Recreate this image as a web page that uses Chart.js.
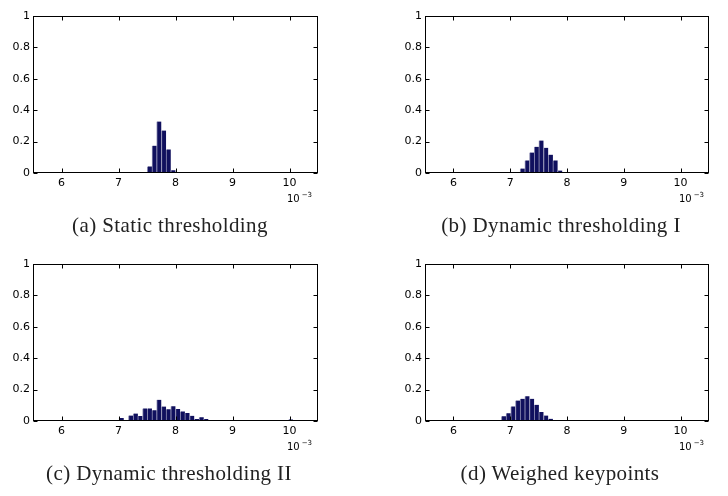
<!DOCTYPE html>
<html>
<head>
<meta charset="utf-8">
<script src="https://cdn.jsdelivr.net/npm/chart.js@4.4.1/dist/chart.umd.min.js"></script>
<style>
  html, body { margin:0; padding:0; background:#fff; }
  body { width:728px; height:496px; position:relative; overflow:hidden; }
  .panel { position:absolute; width:364px; height:248px; }
  .panel canvas { position:absolute; left:0; top:0; }
  .cap { position:absolute; font-family:"Liberation Serif","Times New Roman",serif; font-size:21px; line-height:21px; letter-spacing:0.4px; color:#222; white-space:nowrap; transform:translateX(-50%); }
  .exp { position:absolute; font-family:"DejaVu Sans",sans-serif; font-size:10px; line-height:10px; color:#000; white-space:nowrap; }
  .exp sup { font-size:7px; position:relative; top:-1px; margin-left:2px; }
</style>
</head>
<body>
<div class="panel" style="left:0;top:0"><canvas id="ca" width="364" height="248"></canvas></div>
<div class="panel" style="left:364px;top:0"><canvas id="cb" width="364" height="248"></canvas></div>
<div class="panel" style="left:0;top:248px"><canvas id="cc" width="364" height="248"></canvas></div>
<div class="panel" style="left:364px;top:248px"><canvas id="cd" width="364" height="248"></canvas></div>

<div class="cap" style="left:170px;top:215px">(a) Static thresholding</div>
<div class="cap" style="left:561px;top:215px">(b) Dynamic thresholding I</div>
<div class="cap" style="left:169px;top:463px">(c) Dynamic thresholding II</div>
<div class="cap" style="left:560px;top:463px">(d) Weighed keypoints</div>

<div class="exp" style="left:287px;top:191px">10<sup>−3</sup></div>
<div class="exp" style="left:679px;top:191px">10<sup>−3</sup></div>
<div class="exp" style="left:287px;top:439px">10<sup>−3</sup></div>
<div class="exp" style="left:679px;top:439px">10<sup>−3</sup></div>

<script>
// Histogram bin centres (units of 10^-3)
const binCenters = [
  6.721, 6.804, 6.886, 6.969, 7.051, 7.134, 7.216, 7.299, 7.381, 7.464,
  7.546, 7.629, 7.711, 7.794, 7.876, 7.959, 8.041, 8.124, 8.206, 8.289,
  8.371, 8.454, 8.536, 8.619, 8.701, 8.784, 8.866, 8.949, 9.031, 9.114,
  9.196, 9.279, 9.361, 9.444, 9.526, 9.609, 9.691, 9.774, 9.856, 9.939,
  10.021
];

// (a) Static thresholding
const valuesStatic = [
  0, 0, 0, 0, 0, 0, 0, 0, 0, 0.003,
  0.042, 0.174, 0.328, 0.27, 0.15, 0.017, 0.007, 0.003, 0, 0.006,
  0, 0, 0, 0, 0, 0, 0, 0, 0, 0,
  0, 0, 0, 0, 0.003, 0, 0, 0, 0, 0,
  0
];
// (b) Dynamic thresholding I
const valuesDynamicI = [
  0, 0, 0, 0, 0, 0.005, 0.028, 0.08, 0.13, 0.167,
  0.207, 0.161, 0.117, 0.08, 0.016, 0.007, 0.003, 0.002, 0.002, 0.001,
  0, 0, 0, 0, 0, 0, 0, 0, 0, 0,
  0, 0, 0, 0, 0, 0, 0, 0, 0, 0.006,
  0
];
// (c) Dynamic thresholding II
const valuesDynamicII = [
  0, 0, 0, 0.007, 0.019, 0.002, 0.035, 0.048, 0.032, 0.08,
  0.08, 0.068, 0.135, 0.092, 0.075, 0.094, 0.076, 0.061, 0.051, 0.033,
  0.012, 0.024, 0.013, 0.003, 0, 0, 0, 0, 0, 0,
  0, 0, 0, 0, 0, 0, 0, 0, 0, 0,
  0.01
];
// (d) Weighed keypoints
const valuesWeighed = [
  0.002, 0.006, 0.03, 0.05, 0.093, 0.13, 0.142, 0.158, 0.142, 0.103,
  0.057, 0.035, 0.014, 0.006, 0.003, 0, 0, 0, 0, 0,
  0, 0, 0, 0.002, 0, 0, 0, 0, 0, 0,
  0, 0, 0, 0, 0, 0, 0, 0, 0, 0,
  0
];

const xTicks = [6, 7, 8, 9, 10];
const yTicks = [0, 0.2, 0.4, 0.6, 0.8, 1];
const xRange = [5.5, 10.5];
const yRange = [0, 1];

const boxPlugin = {
  id: 'matlabBox',
  afterDatasetsDraw(chart) {
    const { ctx, chartArea: a, scales: { x, y } } = chart;
    ctx.save();
    ctx.strokeStyle = '#000';
    ctx.lineWidth = 1;
    const L = Math.round(a.left) + 0.5, R = Math.round(a.right) - 0.5;
    const T = Math.round(a.top) + 0.5, B = Math.round(a.bottom) - 0.5;
    ctx.strokeRect(L, T, R - L, B - T);
    const tl = 4;
    ctx.beginPath();
    x.ticks.forEach(t => {
      const px = Math.round(x.getPixelForValue(t.value)) + 0.5;
      ctx.moveTo(px, B); ctx.lineTo(px, B - tl);
      ctx.moveTo(px, T); ctx.lineTo(px, T + tl);
    });
    y.ticks.forEach(t => {
      const py = Math.round(y.getPixelForValue(t.value)) + 0.5;
      ctx.moveTo(L, py); ctx.lineTo(L + tl, py);
      ctx.moveTo(R, py); ctx.lineTo(R - tl, py);
    });
    ctx.stroke();
    ctx.restore();
  }
};

const tickFont = { family: '"DejaVu Sans", sans-serif', size: 11 };

function makeChart(id, values, areaLeft, areaRight) {
  const data = binCenters.map((c, i) => ({ x: c, y: values[i] }));
  return new Chart(document.getElementById(id), {
    type: 'bar',
    data: {
      datasets: [{
        data: data,
        backgroundColor: '#10105e',
        borderColor: '#8a8ab0',
        borderWidth: { left: 1, right: 0, top: 0, bottom: 0 },
        borderSkipped: false,
        barPercentage: 1,
        categoryPercentage: 1
      }]
    },
    options: {
      responsive: false,
      animation: false,
      devicePixelRatio: 1,
      layout: { padding: { left: 0, right: 364 - areaRight, top: 16, bottom: 0 } },
      plugins: { legend: { display: false }, tooltip: { enabled: false } },
      scales: {
        x: {
          type: 'linear',
          offset: false,
          min: xRange[0], max: xRange[1],
          afterBuildTicks(s) { s.ticks = xTicks.map(v => ({ value: v })); },
          afterFit(s) { s.height = 75; },
          grid: { display: false, drawTicks: false, offset: false },
          border: { display: false },
          ticks: { font: tickFont, color: '#000', padding: 4, maxRotation: 0, autoSkip: false,
                   callback: v => String(v) }
        },
        y: {
          type: 'linear',
          min: yRange[0], max: yRange[1],
          afterBuildTicks(s) { s.ticks = yTicks.map(v => ({ value: v })); },
          afterFit(s) { s.width = areaLeft; },
          grid: { display: false, drawTicks: false },
          border: { display: false },
          ticks: { font: tickFont, color: '#000', padding: 3, callback: v => String(v) }
        }
      }
    },
    plugins: [boxPlugin]
  });
}

makeChart('ca', valuesStatic, 33, 318);
makeChart('cb', valuesDynamicI, 61, 345);
makeChart('cc', valuesDynamicII, 33, 318);
makeChart('cd', valuesWeighed, 61, 345);
</script>
</body>
</html>
